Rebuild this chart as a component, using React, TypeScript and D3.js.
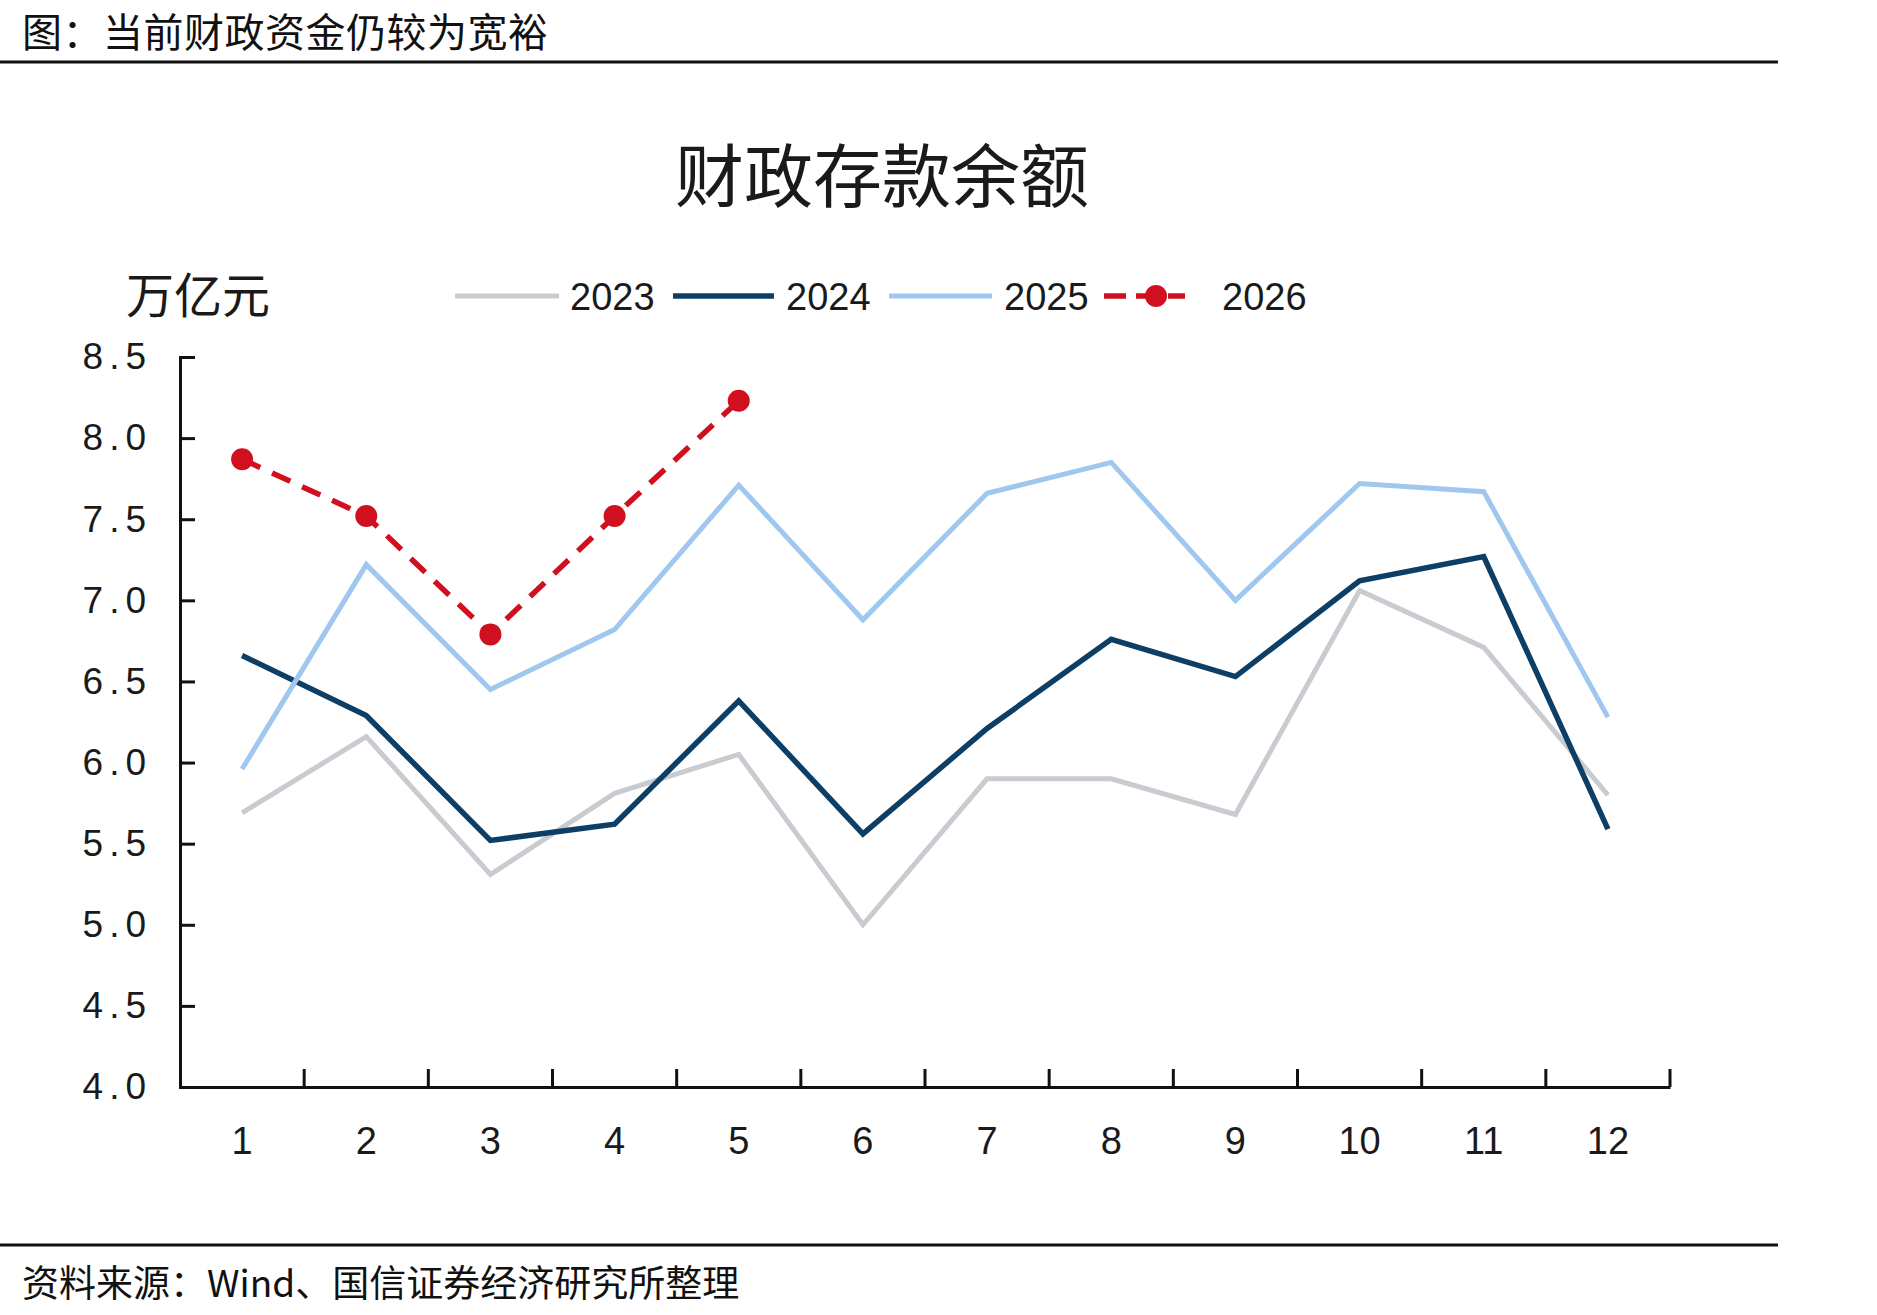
import { useEffect, useRef } from 'react';
import * as d3 from 'd3';

// months on the x axis
const months = ['1', '2', '3', '4', '5', '6', '7', '8', '9', '10', '11', '12'];
const yTicks = [4.0, 4.5, 5.0, 5.5, 6.0, 6.5, 7.0, 7.5, 8.0, 8.5];

// 财政存款余额, 万亿元
const v2023 = [5.69, 6.16, 5.31, 5.81, 6.05, 5.0, 5.9, 5.9, 5.68, 7.06, 6.71, 5.8];
const v2024 = [6.66, 6.29, 5.52, 5.62, 6.38, 5.56, 6.21, 6.76, 6.53, 7.12, 7.27, 5.59];
const v2025 = [5.96, 7.22, 6.45, 6.82, 7.71, 6.88, 7.66, 7.85, 7.0, 7.72, 7.67, 6.28];
const v2026 = [7.87, 7.52, 6.79, 7.52, 8.23];

const seriesNames = ['2023', '2024', '2025', '2026'];

const W = 1877;
const H = 1315;
const cjk = '"Noto Sans CJK SC", "Noto Sans", sans-serif';
const num = '"Liberation Sans", Arial, sans-serif';

export default function App() {
  const svgRef = useRef<SVGSVGElement>(null);

  useEffect(() => {
    document.body.style.margin = '0';
    const svg = d3.select(svgRef.current);
    svg.selectAll('*').remove();

    const margin = { left: 180, right: W - 1670, top: 357, bottom: H - 1087 };
    const x = d3.scaleBand().domain(months).range([margin.left, W - margin.right]).padding(0);
    const y = d3.scaleLinear().domain([4, 8.5]).range([H - margin.bottom, margin.top]);
    const cx = (i: number) => (x(months[i]) as number) + x.bandwidth() / 2;

    svg.append('rect').attr('width', W).attr('height', H).attr('fill', '#fff');

    // header
    svg.append('text')
      .attr('x', 22).attr('y', 47)
      .style('font-family', cjk).style('font-size', '40px').style('fill', '#111')
      .style('letter-spacing', '0.5px')
      .text('图：当前财政资金仍较为宽裕');
    svg.append('line').attr('x1', 0).attr('x2', 1778).attr('y1', 62).attr('y2', 62)
      .attr('stroke', '#111').attr('stroke-width', 3);

    // chart title
    svg.append('text')
      .attr('x', 882).attr('y', 202).attr('text-anchor', 'middle')
      .style('font-family', cjk).style('font-size', '69px').style('fill', '#1a1a1a')
      .text('财政存款余额');

    // unit
    svg.append('text')
      .attr('x', 126).attr('y', 313)
      .style('font-family', cjk).style('font-size', '48px').style('fill', '#1a1a1a')
      .text('万亿元');

    // series setup
    const series = [
      { name: seriesNames[0], values: v2023, color: '#c8cbd0', width: 5, dash: null as string | null, dots: false },
      { name: seriesNames[1], values: v2024, color: '#0d3f66', width: 5.5, dash: null, dots: false },
      { name: seriesNames[2], values: v2025, color: '#9fc7ef', width: 5, dash: null, dots: false },
      { name: seriesNames[3], values: v2026, color: '#d0101e', width: 5.5, dash: '20,13', dots: true },
    ];

    // legend
    const legendX = [455, 673, 889, 1104];
    const legendLen = [104, 101, 103, 81];
    const legendTextX = [570, 786, 1004, 1222];
    series.forEach((s, i) => {
      const g = svg.append('g');
      g.append('line')
        .attr('x1', legendX[i]).attr('x2', legendX[i] + legendLen[i])
        .attr('y1', 296).attr('y2', 296)
        .attr('stroke', s.color).attr('stroke-width', s.width)
        .attr('stroke-dasharray', s.dash ? '22,10' : null);
      if (s.dots) {
        g.append('circle').attr('cx', legendX[i] + 52).attr('cy', 296).attr('r', 11).attr('fill', s.color);
      }
      g.append('text')
        .attr('x', legendTextX[i]).attr('y', 310)
        .style('font-family', num).style('font-size', '38px').style('fill', '#1a1a1a')
        .text(s.name);
    });

    // y axis
    const yAxis = svg.append('g').attr('transform', `translate(${margin.left},0)`)
      .call(d3.axisLeft(y).tickValues(yTicks).tickSize(-15).tickPadding(28).tickFormat(d3.format('.1f')));
    yAxis.select('.domain').attr('stroke', '#111').attr('stroke-width', 3);
    yAxis.selectAll('.tick line').attr('stroke', '#111').attr('stroke-width', 3);
    yAxis.selectAll('.tick text')
      .style('font-family', num).style('font-size', '37px').style('fill', '#1a1a1a')
      .style('letter-spacing', '6px');

    // x axis
    const xAxis = svg.append('g').attr('transform', `translate(0,${H - margin.bottom})`)
      .call(d3.axisBottom(x).tickSize(0).tickPadding(40));
    xAxis.select('.domain').attr('stroke', '#111').attr('stroke-width', 3);
    xAxis.selectAll('.tick text')
      .style('font-family', num).style('font-size', '38px').style('fill', '#1a1a1a');
    // tick marks at band boundaries, pointing up
    xAxis.selectAll('.bound')
      .data(months)
      .enter()
      .append('line')
      .attr('x1', d => (x(d) as number) + x.bandwidth())
      .attr('x2', d => (x(d) as number) + x.bandwidth())
      .attr('y1', 0).attr('y2', -18)
      .attr('stroke', '#111').attr('stroke-width', 3);

    // lines
    const line = d3.line<number>().x((_, i) => cx(i)).y(d => y(d));
    series.forEach(s => {
      svg.append('path')
        .datum(s.values)
        .attr('d', line)
        .attr('fill', 'none')
        .attr('stroke', s.color)
        .attr('stroke-width', s.width)
        .attr('stroke-linejoin', 'miter')
        .attr('stroke-dasharray', s.dash);
      if (s.dots) {
        svg.selectAll(null)
          .data(s.values)
          .enter()
          .append('circle')
          .attr('cx', (_, i) => cx(i))
          .attr('cy', d => y(d))
          .attr('r', 11)
          .attr('fill', s.color);
      }
    });

    // footer
    svg.append('line').attr('x1', 0).attr('x2', 1778).attr('y1', 1245).attr('y2', 1245)
      .attr('stroke', '#111').attr('stroke-width', 3);
    svg.append('text')
      .attr('x', 22).attr('y', 1297)
      .style('font-family', cjk).style('font-size', '37px').style('fill', '#111')
      .text('资料来源：Wind、国信证券经济研究所整理');
  }, []);

  return <svg ref={svgRef} width={W} height={H} style={{ display: 'block' }} />;
}
